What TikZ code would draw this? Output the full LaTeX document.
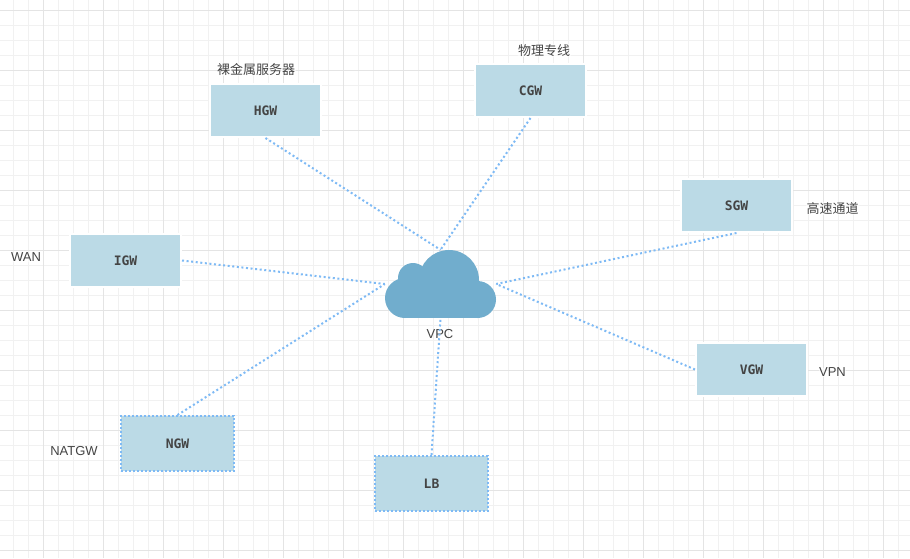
\documentclass[tikz,border=0pt]{standalone}
\usepackage{fontspec}
\setmainfont{Liberation Sans}
\newfontfamily\monob[BoldFont={DejaVu Sans Mono Bold}]{DejaVu Sans Mono}
\newfontfamily\cjk{Noto Sans CJK SC}
\definecolor{gmin}{HTML}{F1F1F1}
\definecolor{gmaj}{HTML}{E4E4E4}
\definecolor{boxfill}{HTML}{BBDAE6}
\definecolor{cloudfill}{HTML}{71ADCD}
\definecolor{linkc}{HTML}{7EBAF5}
\definecolor{txt}{HTML}{444444}
\tikzset{
  x=1pt,y=-1pt,
  gatebox/.style={rectangle,fill=boxfill,draw=white,line width=2pt,inner sep=0pt,
    text=txt,font=\fontsize{13}{15}\monob\bfseries},
  dotbox/.style={gatebox,draw=linkc,line width=2pt,dash pattern=on 2pt off 2pt},
  link/.style={draw=linkc,line width=2pt,dash pattern=on 2pt off 2.6pt},
  lab/.style={text=txt,font=\fontsize{13}{15}\selectfont,inner sep=0.5pt,fill=white,fill opacity=0.6,text opacity=1},
  cjklab/.style={lab,font=\fontsize{13}{15}\cjk},
}
\begin{document}
\begin{tikzpicture}
\useasboundingbox (0,0) rectangle (910,558);
\fill[white] (0,0) rectangle (910,558);
% grid
\foreach \i in {0,...,60} {
  \pgfmathsetmacro{\xx}{13.5+15*\i}
  \draw[gmin,line width=1pt] (\xx,0) -- (\xx,558);
}
\foreach \i in {0,...,37} {
  \pgfmathsetmacro{\yy}{10.5+15*\i}
  \draw[gmin,line width=1pt] (0,\yy) -- (910,\yy);
}
\foreach \i in {0,...,14} {
  \pgfmathsetmacro{\xx}{43.5+60*\i}
  \draw[gmaj,line width=1pt] (\xx,0) -- (\xx,558);
}
\foreach \i in {0,...,9} {
  \pgfmathsetmacro{\yy}{10.5+60*\i}
  \draw[gmaj,line width=1pt] (0,\yy) -- (910,\yy);
}
% boxes
\node[gatebox,minimum width=111pt,minimum height=53pt] (hgw) at (265.5,110.5) {HGW};
\node[gatebox,minimum width=111pt,minimum height=53pt] (cgw) at (530.5,90.5) {CGW};
\node[gatebox,minimum width=111pt,minimum height=53pt] (sgw) at (736.5,205.5) {SGW};
\node[gatebox,minimum width=111pt,minimum height=53pt] (vgw) at (751.5,369.5) {VGW};
\node[gatebox,minimum width=111pt,minimum height=53pt] (igw) at (125.5,260.5) {IGW};
\node[dotbox,minimum width=113pt,minimum height=55pt] (ngw) at (177.5,443.5) {NGW};
\node[dotbox,minimum width=113pt,minimum height=55pt] (lb) at (431.5,483.5) {LB};
% cloud anchor box
\node[minimum width=111pt,minimum height=68pt,inner sep=0pt] (cloud) at (440.5,284) {};
\node[text=txt,font=\fontsize{13}{15}\selectfont,inner sep=0pt] (vpc) at (440,334) {VPC};
% connectors
\draw[link] (hgw.south) -- (cloud.north);
\draw[link] (cgw.south) -- (cloud.north);
\draw[link] (sgw.south) -- (cloud.east);
\draw[link] (vgw.west) -- (cloud.east);
\draw[link] (igw.east) -- (cloud.west);
\draw[link] (ngw.north) -- (cloud.west);
\draw[link] (lb.north) -- (cloud.south);
% cloud
\fill[cloudfill] (449,280) circle[radius=30];
\fill[cloudfill] (413,278) circle[radius=15];
\fill[cloudfill] (405,298) circle[radius=20];
\fill[cloudfill] (477.5,299.5) circle[radius=18.5];
\fill[cloudfill] (405,285) rectangle (478,318);
% labels
\node[cjklab] (lhgw) at (256,69.5) {裸金属服务器};
\node[cjklab] (lcgw) at (544,50.5) {物理专线};
\node[cjklab] (lsgw) at (832.5,208.5) {高速通道};
\node[lab] (lvgw) at (832.5,372.5) {VPN};
\node[lab] (ligw) at (26,257.5) {WAN};
\node[lab] (lngw) at (74,451.5) {NATGW};
\end{tikzpicture}
\end{document}
